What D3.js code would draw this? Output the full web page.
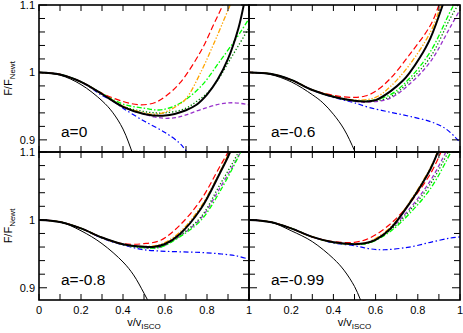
<!DOCTYPE html>
<html><head><meta charset="utf-8">
<script src="https://cdn.jsdelivr.net/npm/d3@7"></script>
<style>body{margin:0;background:#fff}svg{display:block}text{font-family:"Liberation Sans",Arial,sans-serif}</style>
</head><body>
<script>
// ---------------- DATA ([v/vISCO, F/FNewt]) ----------------
const panelLabels = ["a=0", "a=-0.6", "a=-0.8", "a=-0.99"];
const yTickValues = [0.9, 0.92, 0.94, 0.96, 0.98, 1.0, 1.02, 1.04, 1.06, 1.08, 1.1];
const yTickLabels = ["0.9", "1", "1.1"];
const xTickValues = [0, 0.1, 0.2, 0.3, 0.4, 0.5, 0.6, 0.7, 0.8, 0.9, 1.0];
const xTickLabelsLeft = ["0", "0.2", "0.4", "0.6", "0.8", "1"];
const xTickLabelsRight = ["0.2", "0.4", "0.6", "0.8", "1"];

// a = 0
const a0_thick  = [[0,1],[0.1,0.997],[0.2,0.986],[0.3,0.968],[0.4,0.949],[0.5,0.9385],[0.6,0.936],[0.7,0.944],[0.75,0.952],[0.8,0.967],[0.85,0.989],[0.9,1.02],[0.95,1.066],[0.975,1.1],[1.0,1.14]];
const a0_thin   = [[0,1],[0.1,0.996],[0.2,0.982],[0.3,0.958],[0.35,0.941],[0.4,0.916],[0.45,0.876],[0.5,0.83]];
const a0_red    = [[0,1],[0.1,0.997],[0.2,0.986],[0.3,0.969],[0.4,0.957],[0.48,0.952],[0.55,0.955],[0.6,0.964],[0.67,0.984],[0.77,1.031],[0.83,1.07],[0.875,1.1],[0.9,1.12]];
const a0_orange = [[0,1],[0.1,0.997],[0.2,0.986],[0.3,0.968],[0.4,0.950],[0.5,0.940],[0.55,0.938],[0.6,0.941],[0.65,0.949],[0.7,0.961],[0.77,1.0],[0.83,1.041],[0.89,1.085],[0.91,1.1],[0.93,1.12]];
const a0_green  = [[0,1],[0.1,0.997],[0.2,0.986],[0.3,0.969],[0.4,0.953],[0.5,0.947],[0.58,0.9445],[0.67,0.954],[0.77,0.979],[0.86,1.016],[0.96,1.06],[1.0,1.08]];
const a0_dotted = [[0,1],[0.1,0.997],[0.2,0.986],[0.3,0.968],[0.4,0.950],[0.5,0.942],[0.6,0.940],[0.7,0.947],[0.75,0.957],[0.8,0.969],[0.85,0.988],[0.9,1.014],[0.95,1.040],[1.0,1.066]];
const a0_purple = [[0,1],[0.1,0.997],[0.2,0.986],[0.3,0.968],[0.4,0.949],[0.5,0.938],[0.55,0.934],[0.6,0.932],[0.65,0.933],[0.7,0.937],[0.77,0.945],[0.86,0.953],[0.93,0.955],[1.0,0.952]];
const a0_blue   = [[0,1],[0.1,0.997],[0.2,0.986],[0.3,0.966],[0.35,0.958],[0.4,0.947],[0.5,0.928],[0.6,0.911],[0.67,0.895],[0.7,0.884],[0.75,0.865]];

// a = -0.6
const a06_thick  = [[0,1],[0.1,0.998],[0.2,0.989],[0.3,0.974],[0.4,0.964],[0.5,0.958],[0.55,0.957],[0.6,0.959],[0.67,0.972],[0.73,0.988],[0.76,0.999],[0.81,1.022],[0.86,1.051],[0.918,1.1],[0.94,1.122]];
const a06_thin   = [[0,1],[0.1,0.997],[0.2,0.986],[0.3,0.967],[0.35,0.955],[0.4,0.938],[0.45,0.916],[0.5,0.884],[0.53,0.86]];
const a06_red    = [[0,1],[0.1,0.998],[0.2,0.989],[0.3,0.974],[0.4,0.966],[0.5,0.963],[0.55,0.965],[0.6,0.972],[0.67,0.991],[0.76,1.026],[0.86,1.07],[0.9,1.1],[0.92,1.12]];
const a06_orange = [[0,1],[0.1,0.998],[0.2,0.989],[0.3,0.974],[0.4,0.965],[0.5,0.959],[0.6,0.963],[0.67,0.979],[0.76,1.011],[0.86,1.06],[0.91,1.1],[0.93,1.12]];
const a06_green  = [[0,1],[0.1,0.998],[0.2,0.989],[0.3,0.974],[0.4,0.964],[0.5,0.958],[0.57,0.958],[0.67,0.967],[0.76,0.991],[0.86,1.031],[0.95,1.088],[0.97,1.1],[0.99,1.115]];
const a06_dotted = [[0,1],[0.1,0.998],[0.2,0.989],[0.3,0.974],[0.4,0.964],[0.5,0.958],[0.57,0.957],[0.67,0.964],[0.76,0.987],[0.86,1.023],[0.95,1.078],[0.99,1.1],[1.0,1.106]];
const a06_purple = [[0,1],[0.1,0.998],[0.2,0.989],[0.3,0.974],[0.4,0.964],[0.5,0.957],[0.57,0.956],[0.67,0.962],[0.76,0.9825],[0.86,1.016],[0.95,1.065],[1.0,1.093]];
const a06_blue   = [[0,1],[0.1,0.998],[0.2,0.989],[0.3,0.974],[0.4,0.963],[0.45,0.959],[0.5,0.955],[0.57,0.948],[0.67,0.941],[0.76,0.935],[0.86,0.927],[0.93,0.917],[0.98,0.903],[1.0,0.896]];

// a = -0.8
const a08_thick  = [[0,1],[0.1,0.997],[0.2,0.9875],[0.3,0.974],[0.4,0.964],[0.5,0.9605],[0.55,0.9605],[0.6,0.9645],[0.67,0.979],[0.77,1.016],[0.86,1.068],[0.91,1.1],[0.93,1.118]];
const a08_thin   = [[0,1],[0.1,0.997],[0.2,0.984],[0.3,0.965],[0.4,0.938],[0.45,0.919],[0.5,0.892],[0.53,0.874],[0.55,0.86]];
const a08_red    = [[0,1],[0.1,0.997],[0.2,0.9875],[0.3,0.974],[0.4,0.965],[0.5,0.965],[0.58,0.97],[0.67,0.992],[0.77,1.029],[0.86,1.078],[0.9,1.1],[0.92,1.115]];
const a08_orange = [[0,1],[0.1,0.997],[0.2,0.9875],[0.3,0.974],[0.4,0.964],[0.5,0.961],[0.58,0.964],[0.67,0.982],[0.77,1.019],[0.86,1.07],[0.905,1.1],[0.92,1.115]];
const a08_green  = [[0,1],[0.1,0.997],[0.2,0.9875],[0.3,0.974],[0.4,0.964],[0.5,0.959],[0.58,0.960],[0.67,0.975],[0.77,0.999],[0.86,1.041],[0.96,1.1],[0.98,1.115]];
const a08_dotted = [[0,1],[0.1,0.997],[0.2,0.9875],[0.3,0.974],[0.4,0.964],[0.5,0.959],[0.58,0.961],[0.67,0.977],[0.77,1.004],[0.86,1.051],[0.95,1.1],[0.97,1.115]];
const a08_purple = [[0,1],[0.1,0.997],[0.2,0.9875],[0.3,0.974],[0.4,0.964],[0.5,0.959],[0.58,0.960],[0.67,0.976],[0.77,1.002],[0.86,1.046],[0.96,1.1],[0.98,1.113]];
const a08_blue   = [[0,1],[0.1,0.997],[0.2,0.9875],[0.3,0.973],[0.4,0.963],[0.45,0.959],[0.5,0.956],[0.58,0.954],[0.67,0.953],[0.77,0.952],[0.86,0.950],[0.94,0.947],[1.0,0.942]];

// a = -0.99
const a099_thick  = [[0,1],[0.1,0.997],[0.2,0.9875],[0.3,0.975],[0.4,0.967],[0.5,0.9643],[0.55,0.9655],[0.6,0.9705],[0.67,0.987],[0.76,1.024],[0.86,1.075],[0.895,1.1],[0.92,1.12]];
const a099_thin   = [[0,1],[0.1,0.997],[0.2,0.984],[0.3,0.968],[0.4,0.943],[0.45,0.926],[0.5,0.902],[0.526,0.884],[0.55,0.866]];
const a099_red    = [[0,1],[0.1,0.997],[0.2,0.9875],[0.3,0.975],[0.4,0.968],[0.5,0.967],[0.57,0.973],[0.67,0.994],[0.76,1.024],[0.86,1.068],[0.91,1.1],[0.93,1.115]];
const a099_orange = [[0,1],[0.1,0.997],[0.2,0.9875],[0.3,0.975],[0.4,0.967],[0.5,0.964],[0.57,0.968],[0.67,0.989],[0.76,1.026],[0.86,1.077],[0.893,1.1],[0.92,1.12]];
const a099_green  = [[0,1],[0.1,0.997],[0.2,0.9875],[0.3,0.975],[0.4,0.967],[0.5,0.964],[0.57,0.966],[0.67,0.983],[0.76,1.009],[0.86,1.046],[0.957,1.1],[0.98,1.115]];
const a099_dotted = [[0,1],[0.1,0.997],[0.2,0.9875],[0.3,0.975],[0.4,0.967],[0.5,0.964],[0.57,0.967],[0.67,0.985],[0.76,1.013],[0.86,1.053],[0.944,1.1],[0.97,1.117]];
const a099_purple = [[0,1],[0.1,0.997],[0.2,0.9875],[0.3,0.975],[0.4,0.967],[0.5,0.964],[0.57,0.967],[0.67,0.987],[0.76,1.016],[0.86,1.058],[0.933,1.1],[0.96,1.118]];
const a099_blue   = [[0,1],[0.1,0.997],[0.2,0.9875],[0.3,0.975],[0.4,0.966],[0.5,0.962],[0.57,0.9575],[0.64,0.956],[0.76,0.960],[0.86,0.967],[0.95,0.973],[1.0,0.975]];

// ---------------- STYLES & LAYOUT ----------------
const styles = {
  blue:   {stroke:"#0000ff", w:1.2, dash:"5,2.5,1.5,2.5"},
  purple: {stroke:"#9932cc", w:1.3, dash:"4,2.5"},
  dotted: {stroke:"#008000", w:1.3, dash:"1.3,2"},
  green:  {stroke:"#00ff00", w:1.3, dash:"5,2,1.5,2"},
  orange: {stroke:"#ffa500", w:1.3, dash:"5,1.8,1.3,1.8,1.3,1.8"},
  red:    {stroke:"#ff0000", w:1.2, dash:"6,3"},
  thin:   {stroke:"#000000", w:1.0, dash:null},
  thick:  {stroke:"#000000", w:2.0, dash:null}
};
const order = ["blue","purple","dotted","green","orange","red","thin","thick"];
const panelData = [
  {blue:a0_blue, purple:a0_purple, dotted:a0_dotted, green:a0_green, orange:a0_orange, red:a0_red, thin:a0_thin, thick:a0_thick},
  {blue:a06_blue, purple:a06_purple, dotted:a06_dotted, green:a06_green, orange:a06_orange, red:a06_red, thin:a06_thin, thick:a06_thick},
  {blue:a08_blue, purple:a08_purple, dotted:a08_dotted, green:a08_green, orange:a08_orange, red:a08_red, thin:a08_thin, thick:a08_thick},
  {blue:a099_blue, purple:a099_purple, dotted:a099_dotted, green:a099_green, orange:a099_orange, red:a099_red, thin:a099_thin, thick:a099_thick}
];
const W = 463, H = 333;
const colsX = [[39,249],[249,460]];
const rowsY = [[5,152],[152,300]];
const yDomain = [0.882, 1.1];

const svg = d3.select("body").append("svg").attr("width",W).attr("height",H);
const font = '"Liberation Sans",Arial,sans-serif';

panelData.forEach((pd, i) => {
  const col = i % 2, row = Math.floor(i/2);
  const [x0,x1] = colsX[col], [y0,y1] = rowsY[row];
  const x = d3.scaleLinear().domain([0,1]).range([x0,x1]);
  const y = d3.scaleLinear().domain(yDomain).range([y1,y0]);
  const g = svg.append("g");
  const cid = "clip"+i;
  svg.append("clipPath").attr("id",cid).append("rect")
    .attr("x",x0).attr("y",y0).attr("width",x1-x0).attr("height",y1-y0);
  const line = d3.line().x(d=>x(d[0])).y(d=>y(d[1])).curve(d3.curveCatmullRom.alpha(0.5));
  const cg = g.append("g").attr("clip-path",`url(#${cid})`);
  order.forEach(k => {
    const s = styles[k];
    cg.append("path").datum(pd[k]).attr("d",line)
      .attr("fill","none").attr("stroke",s.stroke).attr("stroke-width",s.w)
      .attr("stroke-dasharray",s.dash).attr("stroke-linejoin","round");
  });
  // ticks
  const tg = g.append("g").attr("stroke","#000").attr("stroke-width",1);
  xTickValues.forEach(v => {
    const len = 6;
    tg.append("line").attr("x1",x(v)).attr("x2",x(v)).attr("y1",y1).attr("y2",y1-len);
    tg.append("line").attr("x1",x(v)).attr("x2",x(v)).attr("y1",y0).attr("y2",y0+len);
  });
  yTickValues.forEach(v => {
    const major = Math.abs(v*10 - Math.round(v*10)) < 1e-6;
    const len = major ? 8 : 6;
    tg.append("line").attr("y1",y(v)).attr("y2",y(v)).attr("x1",x0).attr("x2",x0+len);
    tg.append("line").attr("y1",y(v)).attr("y2",y(v)).attr("x1",x1).attr("x2",x1-len);
  });
  // frame
  g.append("rect").attr("x",x0).attr("y",y0).attr("width",x1-x0).attr("height",y1-y0)
    .attr("fill","none").attr("stroke","#000").attr("stroke-width",1.6);
  // panel label
  g.append("text").attr("x",x0+22).attr("y",y1-15.5).attr("font-size",15.5).attr("font-family",font)
    .text(panelLabels[i]);
  // y tick labels
  if (col === 0) {
    yTickLabels.forEach(t => {
      g.append("text").attr("x",x0-4).attr("y",y(+t)).attr("dy","0.36em")
        .attr("text-anchor","end").attr("font-size",11).attr("font-family",font).text(t);
    });
    const yl = g.append("text").attr("transform",`translate(12,${(y0+y1)/2}) rotate(-90)`)
      .attr("text-anchor","middle").attr("font-size",11).attr("font-family",font);
    yl.append("tspan").text("F/F");
    yl.append("tspan").attr("font-size",8).attr("dy",3).text("Newt");
  }
  if (row === 1) {
    const labs = col === 0 ? xTickLabelsLeft : xTickLabelsRight;
    labs.forEach(t => {
      g.append("text").attr("x",x(+t)).attr("y",y1+13.5).attr("text-anchor","middle")
        .attr("font-size",11).attr("font-family",font).text(t);
    });
    const xl = g.append("text").attr("x",(x0+x1)/2).attr("y",y1+25.5).attr("text-anchor","middle")
      .attr("font-size",11).attr("font-family",font);
    xl.append("tspan").text("v/v");
    xl.append("tspan").attr("font-size",8).attr("dy",3).text("ISCO");
  }
});
</script>
</body></html>
